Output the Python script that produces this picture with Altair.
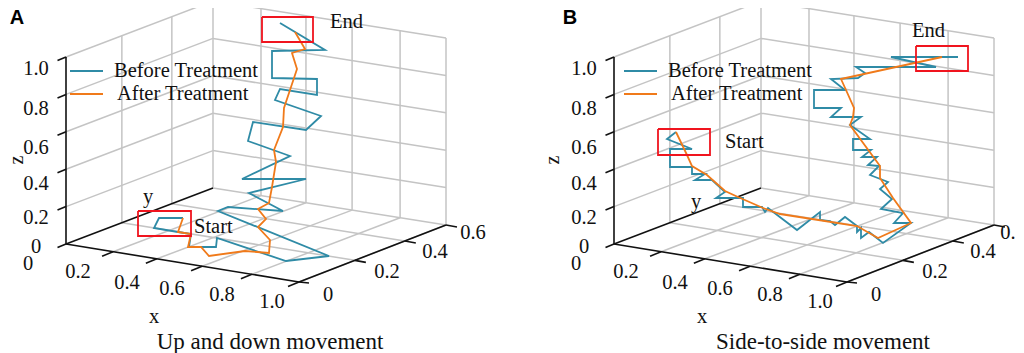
import altair as alt
import pandas as pd

# Figure-plane frame of the oblique 3D box (panel A); panel B is the same box shifted right.
PANEL_SHIFT = 548
L, F, R, BK = (66, 244), (299, 282), (446, 225), (213, 188)
Z_HEIGHT = 187
x_fracs_front = [0.202, 0.39, 0.584, 0.798, 1.0]
x_fracs_back = [0.206, 0.399, 0.597, 0.803, 1.0]
y_fracs = [0.38, 0.72, 1.0]
z_fracs = [0.2, 0.4, 0.6, 0.8, 1.0]

x_tick_labels = ["0.2", "0.4", "0.6", "0.8", "1.0"]
y_tick_labels = ["0", "0.2", "0.4", "0.6"]
z_tick_labels = ["0", "0.2", "0.4", "0.6", "0.8", "1.0"]

# Traces (projected figure plane)
a_before_u = [183,159,154,178,191,189,201,216,217,286,329,218,228,283,249,306,242,290,248,253,306,321,275,280,317,317,272,272,325,280]
a_before_v = [218,218,228,232,234,247,247,247,238,261,256,211,207,211,193,179,179,156,141,122,130,116,100,89,95,79,78,51,50,23]
a_after_u = [183,178,191,188,201,209,245,269,270,258,266,258,269,272,276,274,283,284,290,297,292,305,295]
a_after_v = [218,232,234,247,247,256,251,253,240,227,219,209,203,187,162,150,127,108,90,69,53,49,32]
b_before_u = [676,667,692,670,670,692,692,705,695,712,725,716,743,743,762,765,768,797,820,820,830,835,845,857,857,861,861,869,883,911,894,903,881,892,880,888,870,879,868,877,862,871,853,853,870,850,861,831,841,814,814,845,831,858,865,856,936,891,958]
b_before_v = [132,139,149,149,167,167,174,174,180,180,192,198,198,207,207,212,208,230,212,220,221,225,217,226,232,228,238,232,243,223,223,213,209,199,189,182,175,166,165,157,157,150,150,139,139,125,117,117,108,108,90,90,79,78,73,67,67,57,57]
b_after_u = [676,687,692,707,725,738,763,780,812,857,878,911,893,880,880,850,853,854,846,841,942]
b_after_v = [132,155,166,175,191,197,208,214,219,226,238,223,198,178,166,125,117,108,90,79,57]

TEAL, ORANGE = "#2f8ba6", "#f07a1a"
GRID, BLACK, RED = "#c4c4c4", "#111111", "#f0141e"
SERIF, SANS = "Liberation Serif", "Liberation Sans"


def lerp(a, b, t):
    return (a[0] + (b[0] - a[0]) * t, a[1] + (b[1] - a[1]) * t)


def up(p, f):
    return (p[0], p[1] - Z_HEIGHT * f)


grid, ticks = [], []
for f in z_fracs:
    grid += [(up(L, f), up(BK, f)), (up(BK, f), up(R, f))]
for t in y_fracs:
    p = lerp(L, BK, t)
    grid += [(p, up(p, 1)), (p, lerp(F, R, t))]
    q = lerp(F, R, t)
    ticks.append((q, (q[0] + 11, q[1] + 2)))
for tf, tb in zip(x_fracs_front, x_fracs_back):
    a, b = lerp(L, F, tf), lerp(BK, R, tb)
    grid += [(a, b), (b, up(b, 1))]
    ticks.append((a, (a[0] - 11, a[1] + 4.5)))
for f in [0] + z_fracs:
    p = up(L, f)
    ticks.append((p, (p[0] - 8.5, p[1] + 3.5)))
ticks.append((F, (F[0] + 10, F[1] + 1)))
axes = [(up(L, 1), L), (L, F), (F, R), (L, BK)]


def seg_rows(segs, kind):
    rows = []
    for off in (0, PANEL_SHIFT):
        for k, (p, q) in enumerate(segs):
            sid = f"{kind}{off}-{k}"
            rows.append(dict(id=sid, i=0, u=p[0] + off, v=p[1]))
            rows.append(dict(id=sid, i=1, u=q[0] + off, v=q[1]))
    return rows


def trace_df(u, v):
    return pd.DataFrame({"u": u, "v": v, "i": range(len(u))})


XS = alt.Scale(domain=[8, 1016], nice=False, zero=False)
YS = alt.Scale(domain=[353, 8], nice=False, zero=False)


def enc(chart, **kw):
    return chart.encode(x=alt.X("u:Q", scale=XS, axis=None), y=alt.Y("v:Q", scale=YS, axis=None), **kw)


def seg_layer(rows, color, width):
    return enc(alt.Chart(pd.DataFrame(rows)).mark_line(color=color, strokeWidth=width, clip=True),
               detail="id:N", order="i:Q")


def trace_layer(u, v, color, width=1.8):
    return enc(alt.Chart(trace_df(u, v)).mark_line(color=color, strokeWidth=width, strokeJoin="miter", clip=True),
               order="i:Q")


# Red selection boxes
boxes = [(138, 211, 191, 236), (262, 17, 313, 42), (658, 129, 710, 155), (916, 46, 968, 71)]
box_rows = []
for n, (x0, y0, x1, y1) in enumerate(boxes):
    for k, (u, v) in enumerate([(x0, y0), (x1, y0), (x1, y1), (x0, y1), (x0, y0)]):
        box_rows.append(dict(id=f"b{n}", i=k, u=u, v=v))

# Legend keys
legend_layers = []
for off in (0, 554):
    legend_layers.append(trace_layer([70 + off, 103 + off], [71, 71], TEAL))
    legend_layers.append(trace_layer([70 + off, 103 + off], [94, 94], ORANGE))

# Texts
TICK = 20.5
text_rows = []


def add(s, u, v, size=TICK, align="center"):
    text_rows.append(dict(s=s, u=u, v=v, size=size, align=align))


z_label_pos = [(36, 247), (36, 218), (36, 184), (36, 148), (36, 109), (36, 69)]
x_label_pos = [(78, 272), (127, 283), (172, 289), (222, 295), (272, 302)]
y_label_pos = [(328, 295), (387, 272), (435, 252), (473, 233)]
for off in (0, PANEL_SHIFT):
    for s, (u, v) in zip(z_tick_labels, z_label_pos):
        add(s, u + off, v)
    for s, (u, v) in zip(x_tick_labels, x_label_pos):
        add(s, u + off, v)
    for s, (u, v) in zip(y_tick_labels[:-1] if off else y_tick_labels, y_label_pos):
        add(s, u + off, v)
    add("0", 28 + off, 264)
    add("x", 154 + off, 317)
add("0.", 1008, 233)  # the reference cuts this label at its right edge
add("y", 148, 197)
add("y", 696, 202)
add("Up and down movement", 270, 342, 23)
add("Side-to-side movement", 823, 342, 23)
add("Before Treatment", 114, 71, TICK, "left")
add("After Treatment", 117, 94, TICK, "left")
add("Before Treatment", 668, 71, TICK, "left")
add("After Treatment", 671, 94, TICK, "left")
add("Start", 194, 227, TICK, "left")
add("End", 330, 22, TICK, "left")
add("Start", 725, 142, TICK, "left")
add("End", 912, 31, TICK, "left")

text_df = pd.DataFrame(text_rows)
text_layers = []
for al in ("left", "center"):
    text_layers.append(
        enc(alt.Chart(text_df[text_df["align"] == al]).mark_text(font=SERIF, align=al, baseline="middle", color="#111111"),
            text="s:N", size=alt.Size("size:Q", scale=None))
    )

z_title = enc(alt.Chart(pd.DataFrame({"s": ["z", "z"], "u": [17, 553], "v": [160, 160]}))
              .mark_text(font=SERIF, fontSize=20, angle=270, align="center", baseline="middle", color="#111111"),
              text="s:N")
panel_tags = enc(alt.Chart(pd.DataFrame({"s": ["A", "B"], "u": [17, 570], "v": [18, 18]}))
                 .mark_text(font=SANS, fontWeight="bold", fontSize=20, align="center", baseline="middle", color="#000000"),
                 text="s:N")

layers = [
    seg_layer(seg_rows(grid, "g"), GRID, 1.5),
    seg_layer(seg_rows(axes, "a"), BLACK, 1.6),
    seg_layer(seg_rows(ticks, "t"), BLACK, 1.6),
    trace_layer(a_before_u, a_before_v, TEAL),
    trace_layer(a_after_u, a_after_v, ORANGE),
    trace_layer(b_before_u, b_before_v, TEAL),
    trace_layer(b_after_u, b_after_v, ORANGE),
    seg_layer(box_rows, RED, 1.8),
    *legend_layers,
    *text_layers,
    z_title,
    panel_tags,
]

chart = (
    alt.layer(*layers)
    .properties(width=1008, height=345, padding=0, autosize=alt.AutoSizeParams(type="none"), background="white")
    .configure_view(stroke=None)
)

chart.save("out.html", embed_options={"renderer": "svg", "actions": False})
